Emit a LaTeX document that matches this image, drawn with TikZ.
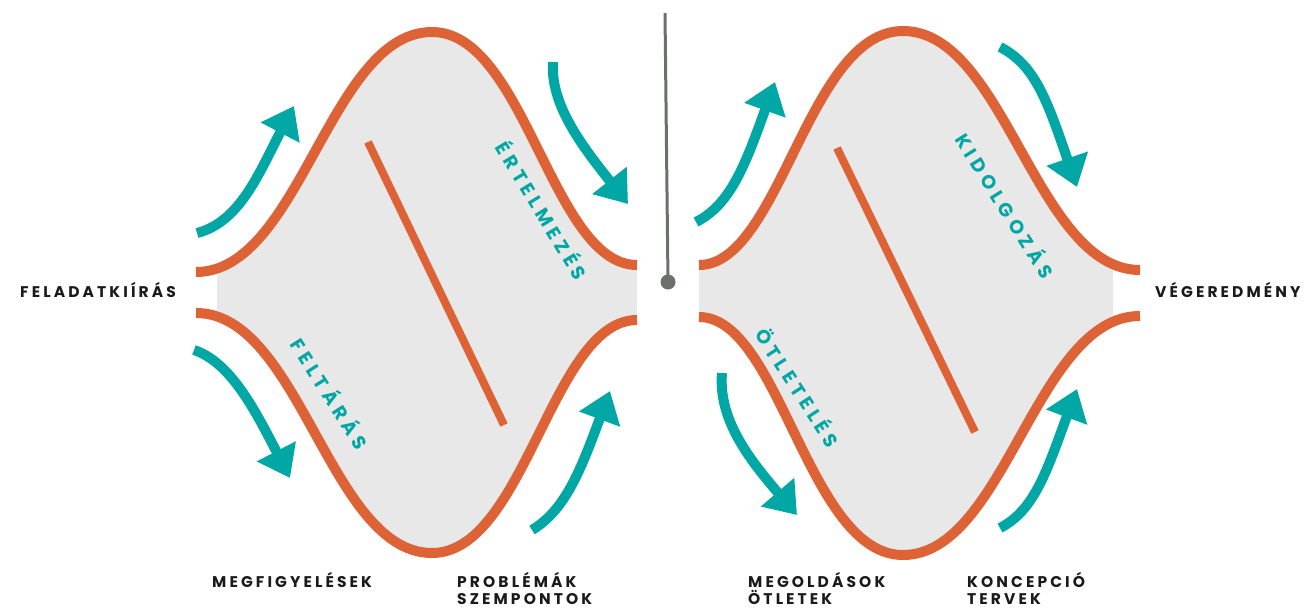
\documentclass[tikz,border=0pt]{standalone}
\usepackage{fontspec}
\setmainfont{Poppins}
\newfontfamily\lblfont[LetterSpace=20]{Poppins}
\newfontfamily\tealfont[LetterSpace=25]{Poppins}
\usetikzlibrary{arrows.meta}
\definecolor{orng}{HTML}{DD6337}
\definecolor{teal2}{HTML}{00A7A4}
\definecolor{fillgray}{HTML}{E8E8E8}
\definecolor{pole}{HTML}{6B706A}
\definecolor{ink}{HTML}{1A1A1A}
\tikzset{
  curve/.style={draw=orng, line width=10pt},
  diag/.style={draw=orng, line width=8pt},
  flow/.style={draw=teal2, line width=10pt, -{Triangle[length=30pt,width=42pt]}},
  lbl/.style={text=ink, inner sep=0pt, anchor=base west, font=\lblfont\bfseries\fontsize{15.5}{17}\selectfont},
  phase/.style={text=teal2, inner sep=0pt, anchor=center, font=\tealfont\bfseries\fontsize{19}{20}\selectfont},
}
\begin{document}
\begin{tikzpicture}[x=1pt,y=-1pt]
\useasboundingbox (0,0) rectangle (1307,608);
% ---------- left diamond ----------
\coordinate (L1) at (196,272);
\coordinate (Lp) at (432,32);
\coordinate (L2) at (637,265);
\coordinate (L3) at (196,313);
\coordinate (Lb) at (432,553);
\coordinate (L4) at (637,320);
\begin{scope}
  \clip (217,0) rectangle (637,608);
  \fill[fillgray] (L1) .. controls (300,272) and (330,32) .. (Lp)
     .. controls (525,32) and (552,265) .. (L2) -- (L4)
     .. controls (552,320) and (525,553) .. (Lb)
     .. controls (330,553) and (300,313) .. (L3) -- cycle;
\end{scope}
\draw[curve] (L1) .. controls (300,272) and (330,32) .. (Lp)
     .. controls (525,32) and (552,265) .. (L2);
\draw[curve] (L3) .. controls (300,313) and (330,553) .. (Lb)
     .. controls (525,553) and (552,320) .. (L4);
\coordinate (Ld1) at (368,142);
\coordinate (Ld2) at (504,425);
\draw[diag] (Ld1) -- (Ld2);
% ---------- right diamond ----------
\coordinate (R1) at (699,265);
\coordinate (Rp) at (903,31);
\coordinate (R2) at (1140,270);
\coordinate (R3) at (699,317);
\coordinate (Rb) at (903,555);
\coordinate (R4) at (1140,316);
\begin{scope}
  \clip (699,0) rectangle (1113,608);
  \fill[fillgray] (R1) .. controls (780,265) and (808,31) .. (Rp)
     .. controls (1005,31) and (1036,270) .. (R2) -- (R4)
     .. controls (1036,316) and (1005,555) .. (Rb)
     .. controls (808,555) and (780,317) .. (R3) -- cycle;
\end{scope}
\draw[curve] (R1) .. controls (780,265) and (808,31) .. (Rp)
     .. controls (1005,31) and (1036,270) .. (R2);
\draw[curve] (R3) .. controls (780,317) and (808,555) .. (Rb)
     .. controls (1005,555) and (1036,316) .. (R4);
\coordinate (Rd1) at (837,148);
\coordinate (Rd2) at (975,432);
\draw[diag] (Rd1) -- (Rd2);
% ---------- pole ----------
\coordinate (P1) at (665,13);
\coordinate (P2) at (668,282);
\draw[pole, line width=3pt] (P1) -- (P2);
\fill[pole] (P2) circle (7.5);
% ---------- arrows ----------
\coordinate (a1s) at (197,233); \coordinate (a1e) at (294,106);
\draw[flow] (a1s) .. controls (240,222) and (259,173) .. (a1e);
\coordinate (a2s) at (553,62); \coordinate (a2e) at (628,204);
\draw[flow] (a2s) .. controls (550,105) and (583,147) .. (a2e);
\coordinate (a3s) at (194,350); \coordinate (a3e) at (290,478);
\draw[flow] (a3s) .. controls (230,362) and (254,408) .. (a3e);
\coordinate (a4s) at (532,530); \coordinate (a4e) at (610,391);
\draw[flow] (a4s) .. controls (565,510) and (580,472) .. (a4e);
\coordinate (a5s) at (696,222); \coordinate (a5e) at (775,82);
\draw[flow] (a5s) .. controls (730,205) and (745,166) .. (a5e);
\coordinate (a6s) at (1000,47); \coordinate (a6e) at (1077,187);
\draw[flow] (a6s) .. controls (1035,65) and (1047,100) .. (a6e);
\coordinate (a7s) at (722,373); \coordinate (a7e) at (797,515);
\draw[flow] (a7s) .. controls (718,420) and (750,460) .. (a7e);
\coordinate (a8s) at (1000,528); \coordinate (a8e) at (1077,389);
\draw[flow] (a8s) .. controls (1035,510) and (1047,470) .. (a8e);
% ---------- phase labels ----------
\node[phase, rotate=-58.7] (ertel) at (543,210) {ÉRTELMEZÉS};
\node[phase, rotate=-57.5] (felt) at (331,393) {FELTÁRÁS};
\node[phase, rotate=-57.9] (kidol) at (1006,205) {KIDOLGOZÁS};
\node[phase, rotate=-57.0] (otlet) at (799,387) {ÖTLETELÉS};
% ---------- black labels ----------
\node[lbl] (feladat) at (20,297) {FELADATKIÍRÁS};
\node[lbl] (veg) at (1155,297) {VÉGEREDMÉNY};
\node[lbl] (megf) at (212,587) {MEGFIGYELÉSEK};
\node[lbl] (probl) at (457,587) {PROBLÉMÁK};
\node[lbl] (szemp) at (457,604) {SZEMPONTOK};
\node[lbl] (megold) at (748,587) {MEGOLDÁSOK};
\node[lbl] (otletek) at (748,604) {ÖTLETEK};
\node[lbl] (konc) at (967,587) {KONCEPCIÓ};
\node[lbl] (terv) at (967,604) {TERVEK};
\end{tikzpicture}
\end{document}
